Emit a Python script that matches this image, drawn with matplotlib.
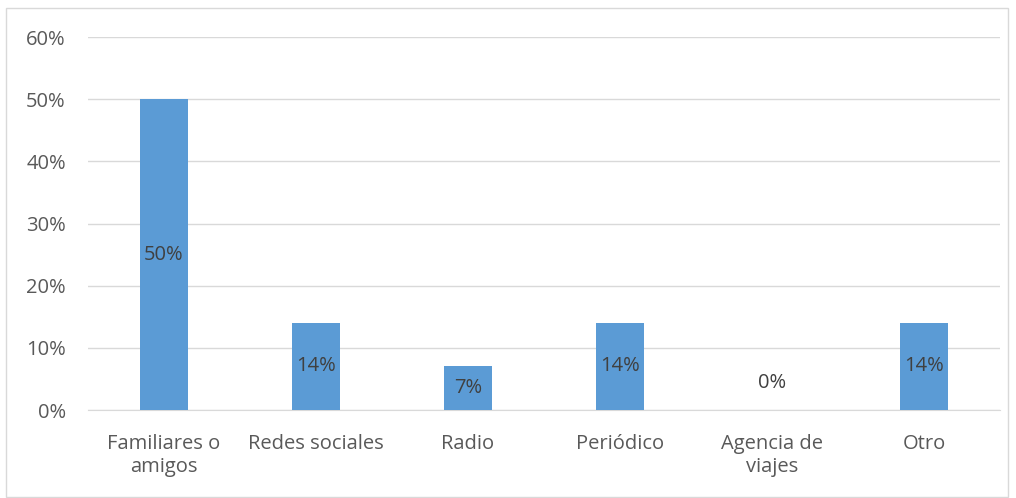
import matplotlib.pyplot as plt
from matplotlib.patches import Rectangle
from matplotlib.ticker import PercentFormatter

categorias = ['Familiares o\namigos', 'Redes sociales', 'Radio', 'Periódico', 'Agencia de\nviajes', 'Otro']
valores = [50, 14, 7, 14, 0, 14]
etiquetas = ['50%', '14%', '7%', '14%', '0%', '14%']

plt.rcParams['font.family'] = ['Open Sans', 'DejaVu Sans']
gris = '#595959'

fig = plt.figure(figsize=(10.16, 4.98), dpi=100)
ax = fig.add_axes([0.0866, 0.1767, 0.8976, 0.749])

x = range(len(categorias))
barras = ax.bar(x, valores, width=0.316, color='#5B9BD5', zorder=3)

for xi, v, t in zip(x, valores, etiquetas):
    if v > 0:
        ax.text(xi, v / 2, t, ha='center', va='center', fontsize=14.5, color='#404040', zorder=4)
    else:
        ax.text(xi, 4.3, t, ha='center', va='center', fontsize=14.5, color='#404040', zorder=4)

ax.set_xlim(-0.5, len(categorias) - 0.5)
ax.set_ylim(0, 60)
ax.set_yticks([0, 10, 20, 30, 40, 50, 60])
ax.yaxis.set_major_formatter(PercentFormatter(decimals=0))
ax.grid(axis='y', color='#D9D9D9', linewidth=1, zorder=0)
ax.set_xticks(list(x))
ax.set_xticklabels(categorias, linespacing=1.2)
ax.tick_params(axis='both', length=0, labelsize=14.5, colors=gris)
ax.tick_params(axis='x', pad=17)
ax.tick_params(axis='y', pad=16)
for s in ['top', 'right', 'left']:
    ax.spines[s].set_visible(False)
ax.spines['bottom'].set_color('#D9D9D9')

fig.patches.append(Rectangle((6 / 1016, 1.5 / 498), 1002 / 1016, 488.5 / 498,
                             transform=fig.transFigure, fill=False, edgecolor='#D9D9D9', linewidth=1))

fig.savefig('out.png', dpi=100)
